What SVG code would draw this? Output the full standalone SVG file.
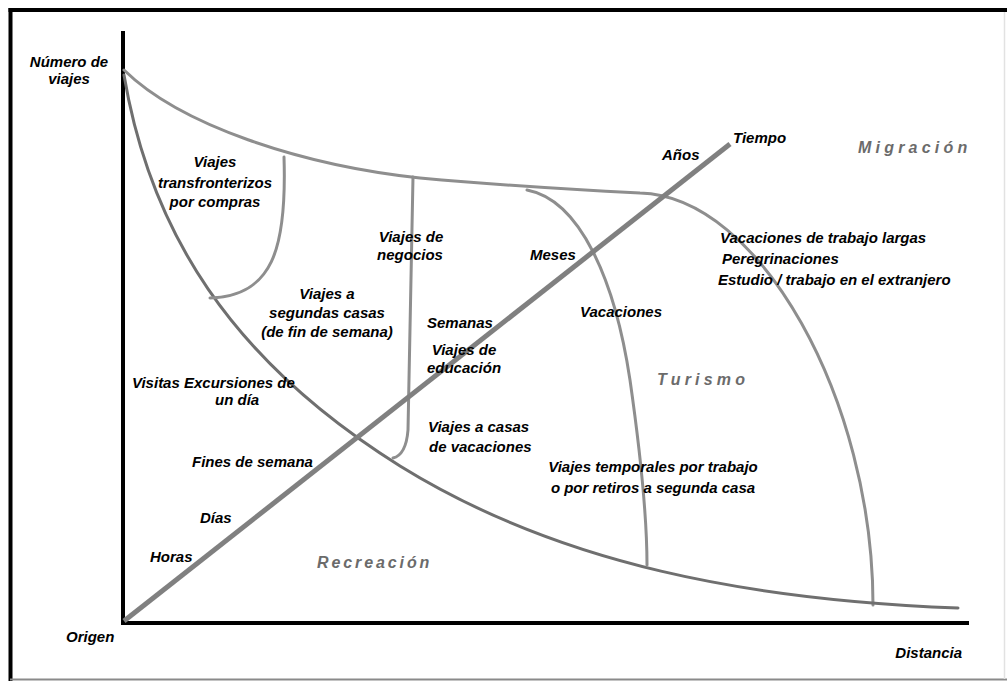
<svg xmlns="http://www.w3.org/2000/svg" width="1007" height="681" viewBox="0 0 1007 681">
<style>
.lbl{font-family:"Liberation Sans",Arial,sans-serif;font-weight:bold;font-style:italic;font-size:15px;fill:#000000}
.mid{text-anchor:middle}
.zone{font-family:"Liberation Sans",Arial,sans-serif;font-weight:bold;font-style:italic;font-size:16px;fill:#6b6b6b}
.curve{fill:none;stroke:#8e8e8e;stroke-width:3;stroke-linecap:round}
.main{fill:none;stroke:#6f6f6f;stroke-width:3;stroke-linecap:round}
</style>
<rect width="1007" height="681" fill="#ffffff"/>
<g id="frame">
<line x1="8.5" y1="10" x2="1007" y2="10" stroke="#000" stroke-width="4"/>
<line x1="10.5" y1="8" x2="10.5" y2="681" stroke="#000" stroke-width="4"/>
<line x1="10" y1="679.5" x2="1007" y2="679.5" stroke="#8a8a8a" stroke-width="2"/>
<line x1="1004.5" y1="12" x2="1004.5" y2="679" stroke="#e2e2e2" stroke-width="1.5"/>
</g>
<g id="axes">
<line x1="123" y1="31" x2="123" y2="625" stroke="#000" stroke-width="4"/>
<line x1="121" y1="623" x2="969" y2="623" stroke="#000" stroke-width="4"/>
</g>
<g id="connectors">
<path id="top-curve" class="curve" d="M 124 70 C 180 125 300 165 420 178 C 520 187 600 191 640 193 C 760 196 873 400 873 605"/>
<path id="main-curve" class="main" d="M 124 75 C 150 230 230 360 400 466 C 560 565 750 600 958 608"/>
<path id="compras" class="curve" d="M 284 157 C 287 250 272 296 210 298"/>
<path id="negocios" class="curve" d="M 413 177 C 411 280 409 380 408 430 Q 406 455 393 458"/>
<path id="vacaciones" class="curve" d="M 527 190 C 580 200 615 280 630 380 C 640 450 647 520 647 565"/>
<line id="tiempo-axis" x1="124" y1="621" x2="730" y2="144" stroke="#808080" stroke-width="5"/>
</g>
<g id="axis-labels">
<text class="lbl mid" x="69" y="67">Número de</text>
<text class="lbl mid" x="69" y="84">viajes</text>
<text class="lbl" x="66" y="642">Origen</text>
<text class="lbl" x="962" y="658" text-anchor="end">Distancia</text>
<text class="lbl" x="733" y="143">Tiempo</text>
</g>
<g id="time-labels">
<text class="lbl" x="662" y="160">Años</text>
<text class="lbl" x="530" y="260">Meses</text>
<text class="lbl" x="427" y="328">Semanas</text>
<text class="lbl" x="192" y="467">Fines de semana</text>
<text class="lbl" x="200" y="523">Días</text>
<text class="lbl" x="150" y="562">Horas</text>
</g>
<g id="node-compras">
<text class="lbl mid" x="215" y="167">Viajes</text>
<text class="lbl mid" x="215" y="188">transfronterizos</text>
<text class="lbl mid" x="215" y="207">por compras</text>
</g>
<g id="node-segundas">
<text class="lbl mid" x="327" y="299">Viajes  a</text>
<text class="lbl mid" x="327" y="318">segundas casas</text>
<text class="lbl mid" x="327" y="337">(de fin de semana)</text>
</g>
<g id="node-negocios">
<text class="lbl mid" x="411" y="242">Viajes de</text>
<text class="lbl mid" x="410" y="260">negocios</text>
</g>
<g id="node-educacion">
<text class="lbl mid" x="464" y="355">Viajes de</text>
<text class="lbl mid" x="464" y="373">educación</text>
</g>
<g id="node-casas-vacaciones">
<text class="lbl" x="428" y="432">Viajes a casas</text>
<text class="lbl" x="429" y="452">de vacaciones</text>
</g>
<g id="node-vacaciones">
<text class="lbl mid" x="621" y="317">Vacaciones</text>
</g>
<g id="node-temporales">
<text class="lbl mid" x="653" y="472">Viajes temporales por trabajo</text>
<text class="lbl mid" x="653" y="493">o por retiros a segunda casa</text>
</g>
<g id="node-visitas">
<text class="lbl" x="132" y="388">Visitas Excursiones de</text>
<text class="lbl" x="215" y="405">un día</text>
</g>
<g id="node-largas">
<text class="lbl" x="720" y="243">Vacaciones de trabajo largas</text>
<text class="lbl" x="722" y="264">Peregrinaciones</text>
<text class="lbl" x="718" y="285">Estudio / trabajo en el extranjero</text>
</g>
<g id="zones">
<text class="zone" x="858" y="153" letter-spacing="4.2">Migración</text>
<text class="zone" x="657" y="385" letter-spacing="4.2">Turismo</text>
<text class="zone" x="317" y="568" letter-spacing="2.9">Recreación</text>
</g>
</svg>
